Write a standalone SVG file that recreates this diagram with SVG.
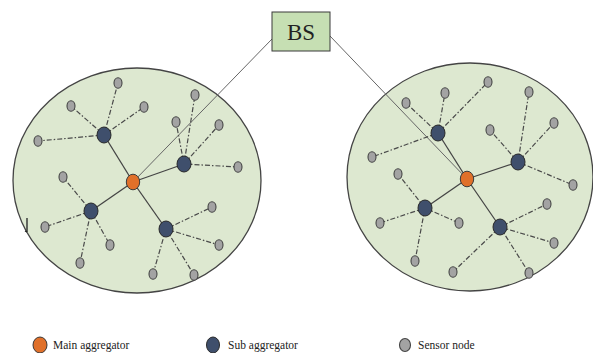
<svg xmlns="http://www.w3.org/2000/svg" width="593" height="353" viewBox="0 0 593 353">
<style>
.cl{fill:#dde8d0;stroke:#444;stroke-width:1.3}
.bs{fill:#c6dfb3;stroke:#3a3a3a;stroke-width:1}
.m{fill:#e0702a;stroke:#3a3a3a;stroke-width:1}
.s{fill:#3f4f6c;stroke:#2a2a2a;stroke-width:1}
.n{fill:#a3a3a3;stroke:#444;stroke-width:1.1}
.d{stroke:#4a4a4a;stroke-width:1.2;stroke-dasharray:5,2,1.5,2;fill:none}
.k{stroke:#444;stroke-width:1.3;fill:none}
.b{stroke:#666;stroke-width:1;fill:none}
.t{font-family:"Liberation Serif",serif;fill:#222}
</style>
<g id="cluster-left"><ellipse class="cl" cx="137" cy="180.5" rx="124" ry="112.5"/></g>
<g id="cluster-right"><ellipse class="cl" cx="470" cy="177" rx="123" ry="114"/></g>
<path d="M27 218 V232 M27 232 l-2 -1" stroke="#222" stroke-width="1.3" fill="none"/>
<g id="connectors">
<line class="b" x1="272" y1="39" x2="133" y2="182"/>
<line class="b" x1="330" y1="36" x2="467" y2="179"/>
<g class="k">
<line x1="133" y1="182" x2="104" y2="135"/><line x1="133" y1="182" x2="184" y2="164"/>
<line x1="133" y1="182" x2="91" y2="211"/><line x1="133" y1="182" x2="166" y2="229"/>
<line x1="467" y1="179" x2="438" y2="133"/><line x1="467" y1="179" x2="518" y2="162"/>
<line x1="467" y1="179" x2="425" y2="208"/><line x1="467" y1="179" x2="500" y2="227"/>
</g>
<g class="d">
<line x1="104" y1="135" x2="118" y2="83"/><line x1="104" y1="135" x2="71" y2="106"/>
<line x1="104" y1="135" x2="144" y2="107"/><line x1="104" y1="135" x2="38" y2="141"/>
<line x1="184" y1="164" x2="195" y2="95"/><line x1="184" y1="164" x2="176" y2="122"/>
<line x1="184" y1="164" x2="219" y2="125"/><line x1="184" y1="164" x2="238" y2="167"/>
<line x1="91" y1="211" x2="63" y2="177"/><line x1="91" y1="211" x2="45" y2="227"/>
<line x1="91" y1="211" x2="110" y2="245"/><line x1="91" y1="211" x2="80" y2="263"/>
<line x1="166" y1="229" x2="212" y2="207"/><line x1="166" y1="229" x2="219" y2="245"/>
<line x1="166" y1="229" x2="153" y2="274"/><line x1="166" y1="229" x2="194" y2="275"/>
<line x1="438" y1="133" x2="488" y2="82"/><line x1="438" y1="133" x2="445" y2="93"/>
<line x1="438" y1="133" x2="406" y2="103"/><line x1="438" y1="133" x2="372" y2="157"/>
<line x1="518" y1="162" x2="490" y2="130"/><line x1="518" y1="162" x2="529" y2="92"/>
<line x1="518" y1="162" x2="554" y2="123"/><line x1="518" y1="162" x2="573" y2="185"/>
<line x1="425" y1="208" x2="398" y2="174"/><line x1="425" y1="208" x2="380" y2="223"/>
<line x1="425" y1="208" x2="459" y2="223"/><line x1="425" y1="208" x2="415" y2="261"/>
<line x1="500" y1="227" x2="547" y2="204"/><line x1="500" y1="227" x2="554" y2="243"/>
<line x1="500" y1="227" x2="453" y2="272"/><line x1="500" y1="227" x2="529" y2="273"/>
</g>
</g>
<g id="bs"><rect class="bs" x="272" y="12" width="58" height="39"/><text class="t" x="301" y="40" font-size="23" text-anchor="middle">BS</text></g>
<g id="main-left"><ellipse class="m" cx="133" cy="182" rx="6.7" ry="7.8"/></g>
<g id="main-right"><ellipse class="m" cx="467" cy="179" rx="6.7" ry="7.8"/></g>
<g id="sub-l1"><ellipse class="s" cx="104" cy="135" rx="7" ry="8"/></g>
<g id="sub-l2"><ellipse class="s" cx="184" cy="164" rx="7" ry="8"/></g>
<g id="sub-l3"><ellipse class="s" cx="91" cy="211" rx="7" ry="8"/></g>
<g id="sub-l4"><ellipse class="s" cx="166" cy="229" rx="7" ry="8"/></g>
<g id="sub-r1"><ellipse class="s" cx="438" cy="133" rx="7" ry="8"/></g>
<g id="sub-r2"><ellipse class="s" cx="518" cy="162" rx="7" ry="8"/></g>
<g id="sub-r3"><ellipse class="s" cx="425" cy="208" rx="7" ry="8"/></g>
<g id="sub-r4"><ellipse class="s" cx="500" cy="227" rx="7" ry="8"/></g>
<g id="sensors">
<g id="sn-l1"><ellipse class="n" cx="118" cy="83" rx="4" ry="5.3"/></g>
<g id="sn-l2"><ellipse class="n" cx="71" cy="106" rx="4" ry="5.3"/></g>
<g id="sn-l3"><ellipse class="n" cx="144" cy="107" rx="4" ry="5.3"/></g>
<g id="sn-l4"><ellipse class="n" cx="38" cy="141" rx="4" ry="5.3"/></g>
<g id="sn-l5"><ellipse class="n" cx="195" cy="95" rx="4" ry="5.3"/></g>
<g id="sn-l6"><ellipse class="n" cx="176" cy="122" rx="4" ry="5.3"/></g>
<g id="sn-l7"><ellipse class="n" cx="219" cy="125" rx="4" ry="5.3"/></g>
<g id="sn-l8"><ellipse class="n" cx="238" cy="167" rx="4" ry="5.3"/></g>
<g id="sn-l9"><ellipse class="n" cx="63" cy="177" rx="4" ry="5.3"/></g>
<g id="sn-l10"><ellipse class="n" cx="45" cy="227" rx="4" ry="5.3"/></g>
<g id="sn-l11"><ellipse class="n" cx="110" cy="245" rx="4" ry="5.3"/></g>
<g id="sn-l12"><ellipse class="n" cx="80" cy="263" rx="4" ry="5.3"/></g>
<g id="sn-l13"><ellipse class="n" cx="212" cy="207" rx="4" ry="5.3"/></g>
<g id="sn-l14"><ellipse class="n" cx="219" cy="245" rx="4" ry="5.3"/></g>
<g id="sn-l15"><ellipse class="n" cx="153" cy="274" rx="4" ry="5.3"/></g>
<g id="sn-l16"><ellipse class="n" cx="194" cy="275" rx="4" ry="5.3"/></g>
<g id="sn-r1"><ellipse class="n" cx="488" cy="82" rx="4" ry="5.3"/></g>
<g id="sn-r2"><ellipse class="n" cx="445" cy="93" rx="4" ry="5.3"/></g>
<g id="sn-r3"><ellipse class="n" cx="406" cy="103" rx="4" ry="5.3"/></g>
<g id="sn-r4"><ellipse class="n" cx="372" cy="157" rx="4" ry="5.3"/></g>
<g id="sn-r5"><ellipse class="n" cx="490" cy="130" rx="4" ry="5.3"/></g>
<g id="sn-r6"><ellipse class="n" cx="529" cy="92" rx="4" ry="5.3"/></g>
<g id="sn-r7"><ellipse class="n" cx="554" cy="123" rx="4" ry="5.3"/></g>
<g id="sn-r8"><ellipse class="n" cx="573" cy="185" rx="4" ry="5.3"/></g>
<g id="sn-r9"><ellipse class="n" cx="398" cy="174" rx="4" ry="5.3"/></g>
<g id="sn-r10"><ellipse class="n" cx="380" cy="223" rx="4" ry="5.3"/></g>
<g id="sn-r11"><ellipse class="n" cx="459" cy="223" rx="4" ry="5.3"/></g>
<g id="sn-r12"><ellipse class="n" cx="415" cy="261" rx="4" ry="5.3"/></g>
<g id="sn-r13"><ellipse class="n" cx="547" cy="204" rx="4" ry="5.3"/></g>
<g id="sn-r14"><ellipse class="n" cx="554" cy="243" rx="4" ry="5.3"/></g>
<g id="sn-r15"><ellipse class="n" cx="453" cy="272" rx="4" ry="5.3"/></g>
<g id="sn-r16"><ellipse class="n" cx="529" cy="273" rx="4" ry="5.3"/></g>
</g>
<g id="legend">
<g id="legend-main"><ellipse class="m" cx="40" cy="345" rx="7" ry="8"/><text class="t" x="53" y="349" font-size="11.5">Main aggregator</text></g>
<g id="legend-sub"><ellipse class="s" cx="213" cy="345" rx="6.5" ry="8"/><text class="t" x="228" y="349" font-size="11.5">Sub aggregator</text></g>
<g id="legend-sensor"><ellipse class="n" cx="405" cy="345" rx="5.5" ry="6.5"/><text class="t" x="418" y="349" font-size="11.5">Sensor node</text></g>
</g>
</svg>
